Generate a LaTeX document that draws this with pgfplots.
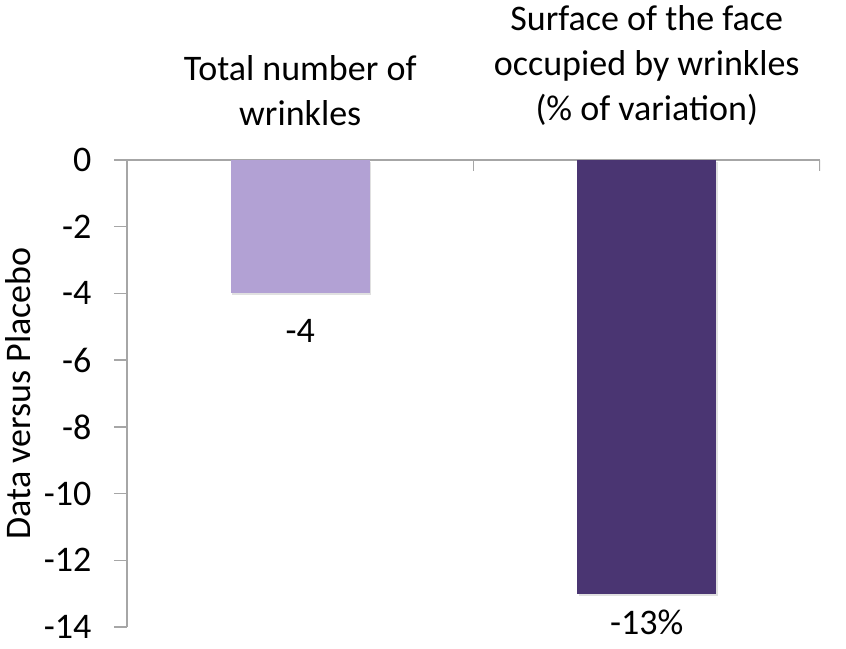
\documentclass[border=0pt]{standalone}
\usepackage{pgfplots}
\pgfplotsset{compat=1.18}
\usepackage{fontspec}
\setmainfont{Carlito}
\definecolor{lightp}{RGB}{178,161,212}
\definecolor{darkp}{RGB}{74,53,114}
\definecolor{axgray}{RGB}{166,166,166}
\newcommand{\bigf}{\fontsize{36}{45}\selectfont}
\begin{document}
\begin{tikzpicture}
\begin{axis}[
 scale only axis, width=693pt, height=467pt,
 xmin=-0.5, xmax=1.5, ymin=-14, ymax=0,
 axis x line=top, axis y line=left,
 axis line style={-, draw=axgray, line width=1.3pt},
 tick align=outside, major tick length=13pt,
 ytick={0,-2,-4,-6,-8,-10,-12,-14},
 ytick style={draw=axgray, line width=1.3pt},
 xtick={0,1}, xtick style={draw=none},
 xticklabels={{Total number of\\wrinkles},{Surface of the face\\occupied by wrinkles\\(\% of variation)}},
 x tick label style={align=center, font=\bigf, anchor=south, yshift=18pt},
 y tick label style={font=\bigf, xshift=-19pt},
 /pgf/number format/assume math mode=true,
 ylabel={Data versus Placebo},
 ylabel style={font=\bigf, at={(axis description cs:-0.176,0.5)}, anchor=north, inner sep=0pt},
 ybar, bar width=0.4, bar shift=0pt,
 nodes near coords, point meta=explicit symbolic,
 nodes near coords style={anchor=north, font=\bigf},
]
\addplot[fill=lightp, draw=none, preaction={fill=black, opacity=0.12, transform canvas={xshift=1.5pt, yshift=-2pt}}, nodes near coords style={yshift=-22pt}] coordinates {(0,-4) [-4]};
\addplot[fill=darkp, draw=none, preaction={fill=black, opacity=0.12, transform canvas={xshift=1.5pt, yshift=-2pt}}, nodes near coords style={yshift=-13pt}] coordinates {(1,-13) [-13\%]};
\draw[axgray, line width=1.3pt] (axis cs:0.5,0) -- ++(0pt,-11pt);
\draw[axgray, line width=1.3pt] (axis cs:1.5,0) -- ++(0pt,-11pt);
\end{axis}
\pgfresetboundingbox
\path[use as bounding box] ([xshift=-127pt,yshift=-21pt]current axis.south west) rectangle ([xshift=26pt,yshift=160pt]current axis.north east);
\end{tikzpicture}
\end{document}
